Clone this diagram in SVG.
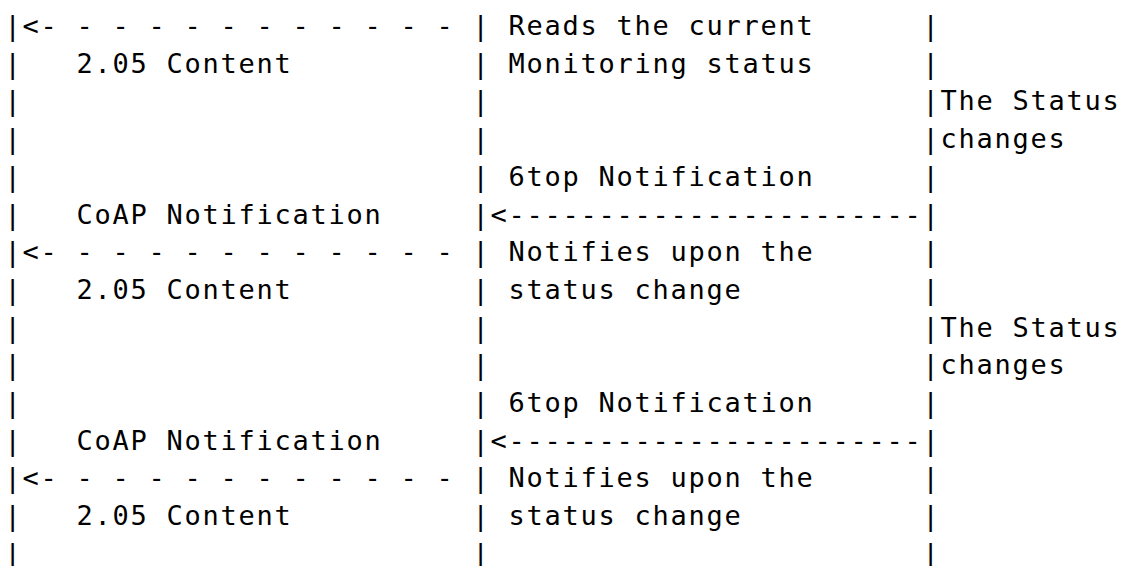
<svg xmlns="http://www.w3.org/2000/svg" width="1127" height="566" viewBox="0 0 1127 566">
  <style>
    .t { font-family: "DejaVu Sans Mono", "Liberation Mono", monospace; font-size: 27px; letter-spacing: 1.74px; fill: #000; white-space: pre; }
  </style>
  <rect width="1127" height="566" fill="#fff"/>
  <!-- Column x = 4.5 + 18*col ; row baseline y = 35 + 37.7*row -->
  <g id="lifelines" class="t" xml:space="preserve">
    <text x="4.5" y="35">|<tspan x="472.5">|</tspan><tspan x="922.5">|</tspan></text>
    <text x="4.5" y="72.7">|<tspan x="472.5">|</tspan><tspan x="922.5">|</tspan></text>
    <text x="4.5" y="110.4">|<tspan x="472.5">|</tspan><tspan x="922.5">|</tspan></text>
    <text x="4.5" y="148.1">|<tspan x="472.5">|</tspan><tspan x="922.5">|</tspan></text>
    <text x="4.5" y="185.8">|<tspan x="472.5">|</tspan><tspan x="922.5">|</tspan></text>
    <text x="4.5" y="223.5">|<tspan x="472.5">|</tspan><tspan x="922.5">|</tspan></text>
    <text x="4.5" y="261.2">|<tspan x="472.5">|</tspan><tspan x="922.5">|</tspan></text>
    <text x="4.5" y="298.9">|<tspan x="472.5">|</tspan><tspan x="922.5">|</tspan></text>
    <text x="4.5" y="336.6">|<tspan x="472.5">|</tspan><tspan x="922.5">|</tspan></text>
    <text x="4.5" y="374.3">|<tspan x="472.5">|</tspan><tspan x="922.5">|</tspan></text>
    <text x="4.5" y="412">|<tspan x="472.5">|</tspan><tspan x="922.5">|</tspan></text>
    <text x="4.5" y="449.7">|<tspan x="472.5">|</tspan><tspan x="922.5">|</tspan></text>
    <text x="4.5" y="487.4">|<tspan x="472.5">|</tspan><tspan x="922.5">|</tspan></text>
    <text x="4.5" y="525.1">|<tspan x="472.5">|</tspan><tspan x="922.5">|</tspan></text>
    <text x="4.5" y="562.8">|<tspan x="472.5">|</tspan><tspan x="922.5">|</tspan></text>
  </g>
  <g id="connectors" class="t" xml:space="preserve">
    <text x="22.5" y="35">&lt;- - - - - - - - - - - -</text>
    <text x="490.5" y="223.5">&lt;-----------------------</text>
    <text x="22.5" y="261.2">&lt;- - - - - - - - - - - -</text>
    <text x="490.5" y="449.7">&lt;-----------------------</text>
    <text x="22.5" y="487.4">&lt;- - - - - - - - - - - -</text>
  </g>
  <g id="labels" class="t" xml:space="preserve">
    <text x="508.5" y="35">Reads the current</text>
    <text x="76.5" y="72.7">2.05 Content</text>
    <text x="508.5" y="72.7">Monitoring status</text>
    <text x="940.5" y="110.4">The Status</text>
    <text x="940.5" y="148.1">changes</text>
    <text x="508.5" y="185.8">6top Notification</text>
    <text x="76.5" y="223.5">CoAP Notification</text>
    <text x="508.5" y="261.2">Notifies upon the</text>
    <text x="76.5" y="298.9">2.05 Content</text>
    <text x="508.5" y="298.9">status change</text>
    <text x="940.5" y="336.6">The Status</text>
    <text x="940.5" y="374.3">changes</text>
    <text x="508.5" y="412">6top Notification</text>
    <text x="76.5" y="449.7">CoAP Notification</text>
    <text x="508.5" y="487.4">Notifies upon the</text>
    <text x="76.5" y="525.1">2.05 Content</text>
    <text x="508.5" y="525.1">status change</text>
  </g>
</svg>
